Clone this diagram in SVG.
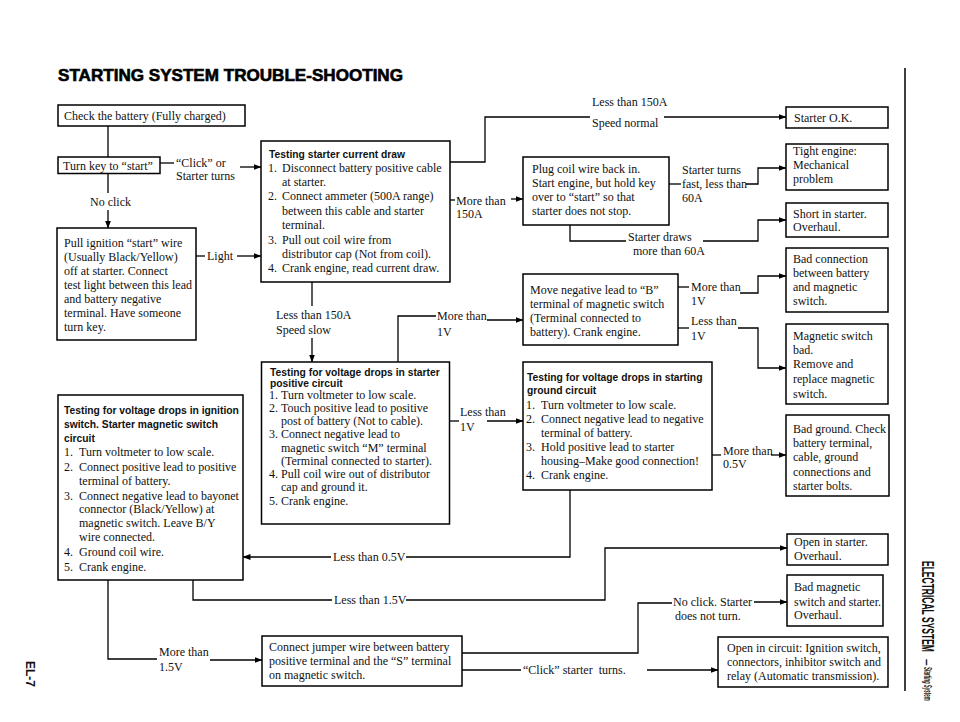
<svg xmlns="http://www.w3.org/2000/svg" width="960" height="722" viewBox="0 0 960 722">
<style>
.bx{fill:#fff;stroke:#000;stroke-width:1.5}
.t{font-family:"Liberation Sans Narrow","Liberation Serif","Times New Roman",serif;font-size:12px;fill:#111}
.t{font-family:"Liberation Serif","Times New Roman",serif}
.h{font-family:"Liberation Sans",Arial,sans-serif;font-weight:bold;font-size:10.3px;fill:#111}
.ln{fill:none;stroke:#000;stroke-width:1.3}
.ar{marker-end:url(#a)}
.side{font-family:"Liberation Sans",Arial,sans-serif;font-weight:bold;fill:#111}
</style>
<defs>
<marker id="a" markerWidth="8" markerHeight="6" refX="7.5" refY="3" orient="auto" markerUnits="userSpaceOnUse"><path d="M0,0 L8,3 L0,6 z" fill="#000"/></marker>
</defs>
<rect width="960" height="722" fill="#fff"/>
<text x="58" y="81" font-family="'Liberation Sans',Arial,sans-serif" font-weight="bold" font-size="16.5" stroke="#000" stroke-width="0.6" textLength="345" lengthAdjust="spacingAndGlyphs">STARTING SYSTEM TROUBLE-SHOOTING</text>
<line x1="905" y1="68" x2="905" y2="691" stroke="#000" stroke-width="1.5"/>
<text class="side" transform="translate(922,561) rotate(90) scale(0.5,1)" font-size="17">ELECTRICAL  SYSTEM</text>
<text class="side" transform="translate(923,659) rotate(90)" font-size="12">–</text>
<text class="side" transform="translate(924,667) rotate(90) scale(0.42,1)" font-size="10.5" font-style="italic">Starting System</text>
<text class="side" transform="translate(26,661) rotate(90)" font-size="12">EL-7</text>

<g id="connectors">
<line class="ln" x1="108" y1="126" x2="108" y2="157"/>
<line class="ln" x1="160" y1="163" x2="174" y2="163"/>
<text class="t" x="176" y="166.5">“Click” or</text>
<text class="t" x="176" y="180">Starter turns</text>
<line class="ln ar" x1="240" y1="167" x2="261" y2="167"/>
<line class="ln" x1="108" y1="173" x2="108" y2="193"/>
<text class="t" x="90" y="206">No click</text>
<line class="ln ar" x1="108" y1="210" x2="108" y2="228"/>
<line class="ln" x1="196" y1="256" x2="205" y2="256"/>
<text class="t" x="207" y="260">Light</text>
<line class="ln ar" x1="237" y1="256" x2="261" y2="256"/>
<polyline class="ln" points="450,162 485,162 485,117 590,117"/>
<text class="t" x="592" y="106">Less than 150A</text>
<text class="t" x="592" y="127">Speed normal</text>
<line class="ln ar" x1="664" y1="117" x2="786" y2="117"/>
<line class="ln" x1="450" y1="200" x2="455" y2="200"/>
<text class="t" x="456" y="205">More than</text>
<text class="t" x="456" y="218">150A</text>
<line class="ln ar" x1="511" y1="199" x2="523" y2="199"/>
<line class="ln" x1="669" y1="184" x2="681" y2="184"/>
<text class="t" x="682" y="174">Starter turns</text>
<text class="t" x="682" y="188">fast, less than</text>
<text class="t" x="682" y="202">60A</text>
<polyline class="ln ar" points="746,184 758,184 758,168 786,168"/>
<polyline class="ln" points="570,225 570,241 626,241"/>
<text class="t" x="628" y="241">Starter draws</text>
<text class="t" x="633" y="255">more than 60A</text>
<polyline class="ln ar" points="703,241 758,241 758,220 786,220"/>
<line class="ln" x1="312" y1="282" x2="312" y2="306"/>
<text class="t" x="276" y="319">Less than 150A</text>
<text class="t" x="276" y="334">Speed slow</text>
<line class="ln ar" x1="312" y1="338" x2="312" y2="362"/>
<polyline class="ln" points="398,362 398,316 436,316"/>
<text class="t" x="437" y="319.5">More than</text>
<text class="t" x="437" y="336">1V</text>
<line class="ln ar" x1="487" y1="320" x2="523" y2="320"/>
<line class="ln" x1="449.5" y1="421" x2="459" y2="421"/>
<text class="t" x="460" y="415.5">Less than</text>
<text class="t" x="460" y="431">1V</text>
<line class="ln ar" x1="487" y1="421" x2="523" y2="421"/>
<line class="ln" x1="678" y1="287" x2="689" y2="287"/>
<text class="t" x="691" y="291">More than</text>
<text class="t" x="691" y="304.5">1V</text>
<polyline class="ln ar" points="740,293 758,293 758,276 786,276"/>
<line class="ln" x1="678" y1="328" x2="689" y2="328"/>
<text class="t" x="691" y="325">Less than</text>
<text class="t" x="691" y="339.5">1V</text>
<polyline class="ln ar" points="738,328 758,328 758,368 786,368"/>
<line class="ln" x1="712" y1="455" x2="721" y2="455"/>
<text class="t" x="723" y="454.5">More than</text>
<text class="t" x="723" y="467.5">0.5V</text>
<line class="ln ar" x1="771" y1="455" x2="786" y2="455"/>
<polyline class="ln" points="570,490 570,557 406,557"/>
<text class="t" x="333" y="561">Less than 0.5V</text>
<line class="ln ar" x1="331" y1="557" x2="243" y2="557"/>
<polyline class="ln" points="193,580 193,600 332,600"/>
<text class="t" x="334" y="604">Less than 1.5V</text>
<polyline class="ln ar" points="406,600 605,600 605,548 787,548"/>
<polyline class="ln" points="108,580 108,659 157,659"/>
<text class="t" x="159" y="656">More than</text>
<text class="t" x="159" y="671">1.5V</text>
<line class="ln ar" x1="210" y1="660" x2="262" y2="660"/>
<polyline class="ln" points="462,653 638,653 638,603 672,603"/>
<text class="t" x="673" y="606">No click. Starter</text>
<text class="t" x="675" y="619.5">does not turn.</text>
<line class="ln ar" x1="754" y1="602" x2="787" y2="602"/>
<line class="ln" x1="462" y1="670" x2="521" y2="670"/>
<text class="t" x="523" y="674" xml:space="preserve">“Click” starter  turns.</text>
<line class="ln ar" x1="647" y1="670" x2="718" y2="670"/>
</g>

<g id="n1"><rect class="bx" x="58" y="105" width="187" height="21"/><text class="t" x="64" y="120">Check the battery (Fully charged)</text></g>
<g id="n2"><rect class="bx" x="58" y="157" width="102" height="16.5"/><text class="t" x="63" y="169.5">Turn key to “start”</text></g>
<g id="n3"><rect class="bx" x="57" y="228" width="139" height="112"/>
<text class="t" x="64" y="247">Pull ignition “start” wire</text>
<text class="t" x="64" y="261">(Usually Black/Yellow)</text>
<text class="t" x="64" y="275">off at starter. Connect</text>
<text class="t" x="64" y="289">test light between this lead</text>
<text class="t" x="64" y="303">and battery negative</text>
<text class="t" x="64" y="317">terminal. Have someone</text>
<text class="t" x="64" y="331">turn key.</text></g>
<g id="n4"><rect class="bx" x="261" y="141" width="189" height="141"/>
<text class="h" x="269" y="158">Testing starter current draw</text>
<text class="t" x="268" y="172">1.</text><text class="t" x="282" y="172">Disconnect battery positive cable</text>
<text class="t" x="282" y="186">at starter.</text>
<text class="t" x="268" y="200">2.</text><text class="t" x="282" y="200">Connect ammeter (500A range)</text>
<text class="t" x="282" y="215">between this cable and starter</text>
<text class="t" x="282" y="229">terminal.</text>
<text class="t" x="268" y="243.5">3.</text><text class="t" x="282" y="243.5">Pull out coil wire from</text>
<text class="t" x="282" y="258">distributor cap (Not from coil).</text>
<text class="t" x="268" y="272">4.</text><text class="t" x="282" y="272">Crank engine, read current draw.</text></g>
<g id="n5"><rect class="bx" x="261.5" y="362" width="188" height="162"/>
<text class="h" x="270" y="375.5">Testing for voltage drops in starter</text>
<text class="h" x="270" y="387">positive circuit</text>
<text class="t" x="269" y="398.5">1.</text><text class="t" x="281" y="398.5">Turn voltmeter to low scale.</text>
<text class="t" x="269" y="411.8">2.</text><text class="t" x="281" y="411.8">Touch positive lead to positive</text>
<text class="t" x="281" y="425">post of battery (Not to cable).</text>
<text class="t" x="269" y="438.3">3.</text><text class="t" x="281" y="438.3">Connect negative lead to</text>
<text class="t" x="281" y="451.5">magnetic switch “M” terminal</text>
<text class="t" x="281" y="464.8">(Terminal connected to starter).</text>
<text class="t" x="269" y="478">4.</text><text class="t" x="281" y="478">Pull coil wire out of distributor</text>
<text class="t" x="281" y="491.3">cap and ground it.</text>
<text class="t" x="269" y="504.5">5.</text><text class="t" x="281" y="504.5">Crank engine.</text></g>
<g id="n6"><rect class="bx" x="58" y="395" width="185" height="185"/>
<text class="h" x="64" y="414">Testing for voltage drops in ignition</text>
<text class="h" x="64" y="427.5">switch. Starter magnetic switch</text>
<text class="h" x="64" y="441.5">circuit</text>
<text class="t" x="64" y="456">1.</text><text class="t" x="79" y="456">Turn voltmeter to low scale.</text>
<text class="t" x="64" y="471">2.</text><text class="t" x="79" y="471">Connect positive lead to positive</text>
<text class="t" x="79" y="484.5">terminal of battery.</text>
<text class="t" x="64" y="499.5">3.</text><text class="t" x="79" y="499.5">Connect negative lead to bayonet</text>
<text class="t" x="79" y="512.5">connector (Black/Yellow) at</text>
<text class="t" x="79" y="527">magnetic switch. Leave B/Y</text>
<text class="t" x="79" y="541">wire connected.</text>
<text class="t" x="64" y="556">4.</text><text class="t" x="79" y="556">Ground coil wire.</text>
<text class="t" x="64" y="571">5.</text><text class="t" x="79" y="571">Crank engine.</text></g>
<g id="n7"><rect class="bx" x="786" y="107" width="102" height="21"/><text class="t" x="794" y="121.5">Starter O.K.</text></g>
<g id="n8"><rect class="bx" x="523" y="157" width="146" height="68"/>
<text class="t" x="532" y="173">Plug coil wire back in.</text>
<text class="t" x="532" y="187">Start engine, but hold key</text>
<text class="t" x="532" y="201">over to “start” so that</text>
<text class="t" x="532" y="214.5">starter does not stop.</text></g>
<g id="n9"><rect class="bx" x="786" y="144" width="102" height="46"/>
<text class="t" x="793" y="155">Tight engine:</text>
<text class="t" x="793" y="169">Mechanical</text>
<text class="t" x="793" y="183">problem</text></g>
<g id="n10"><rect class="bx" x="786" y="203" width="102" height="34"/>
<text class="t" x="793" y="217.5">Short in starter.</text>
<text class="t" x="793" y="231">Overhaul.</text></g>
<g id="n11"><rect class="bx" x="786" y="248" width="102" height="64"/>
<text class="t" x="793" y="262.5">Bad connection</text>
<text class="t" x="793" y="277">between battery</text>
<text class="t" x="793" y="291">and magnetic</text>
<text class="t" x="793" y="305">switch.</text></g>
<g id="n12"><rect class="bx" x="523" y="274" width="155" height="71"/>
<text class="t" x="530" y="293.5">Move negative lead to “B”</text>
<text class="t" x="530" y="307.5">terminal of magnetic switch</text>
<text class="t" x="530" y="322">(Terminal connected to</text>
<text class="t" x="530" y="336">battery). Crank engine.</text></g>
<g id="n13"><rect class="bx" x="786" y="324" width="102" height="80"/>
<text class="t" x="793" y="339.5">Magnetic switch</text>
<text class="t" x="793" y="353.5">bad.</text>
<text class="t" x="793" y="368">Remove and</text>
<text class="t" x="793" y="382.5">replace magnetic</text>
<text class="t" x="793" y="397.5">switch.</text></g>
<g id="n14"><rect class="bx" x="523" y="362" width="189" height="128"/>
<text class="h" x="527" y="380.5">Testing for voltage drops in starting</text>
<text class="h" x="527" y="394">ground circuit</text>
<text class="t" x="526" y="408.5">1.</text><text class="t" x="541" y="408.5">Turn voltmeter to low scale.</text>
<text class="t" x="526" y="422.5">2.</text><text class="t" x="541" y="422.5">Connect negative lead to negative</text>
<text class="t" x="541" y="437">terminal of battery.</text>
<text class="t" x="526" y="451">3.</text><text class="t" x="541" y="451">Hold positive lead to starter</text>
<text class="t" x="541" y="465">housing–Make good connection!</text>
<text class="t" x="526" y="478.5">4.</text><text class="t" x="541" y="478.5">Crank engine.</text></g>
<g id="n15"><rect class="bx" x="786" y="415" width="103" height="81"/>
<text class="t" x="793" y="432.5">Bad ground. Check</text>
<text class="t" x="793" y="446.5">battery terminal,</text>
<text class="t" x="793" y="461">cable, ground</text>
<text class="t" x="793" y="475.5">connections and</text>
<text class="t" x="793" y="489.5">starter bolts.</text></g>
<g id="n16"><rect class="bx" x="787" y="534" width="101" height="31"/>
<text class="t" x="794" y="546">Open in starter.</text>
<text class="t" x="794" y="559.5">Overhaul.</text></g>
<g id="n17"><rect class="bx" x="787" y="575" width="96" height="51"/>
<text class="t" x="794" y="591">Bad magnetic</text>
<text class="t" x="794" y="605.5">switch and starter.</text>
<text class="t" x="794" y="618.5">Overhaul.</text></g>
<g id="n18"><rect class="bx" x="262" y="636" width="200" height="50"/>
<text class="t" x="269" y="651">Connect jumper wire between battery</text>
<text class="t" x="269" y="665">positive terminal and the “S” terminal</text>
<text class="t" x="269" y="678.5">on magnetic switch.</text></g>
<g id="n19"><rect class="bx" x="718" y="637" width="170" height="50"/>
<text class="t" x="727" y="652">Open in circuit: Ignition switch,</text>
<text class="t" x="727" y="665.5">connectors, inhibitor switch and</text>
<text class="t" x="727" y="679.5">relay (Automatic transmission).</text></g>
</svg>
